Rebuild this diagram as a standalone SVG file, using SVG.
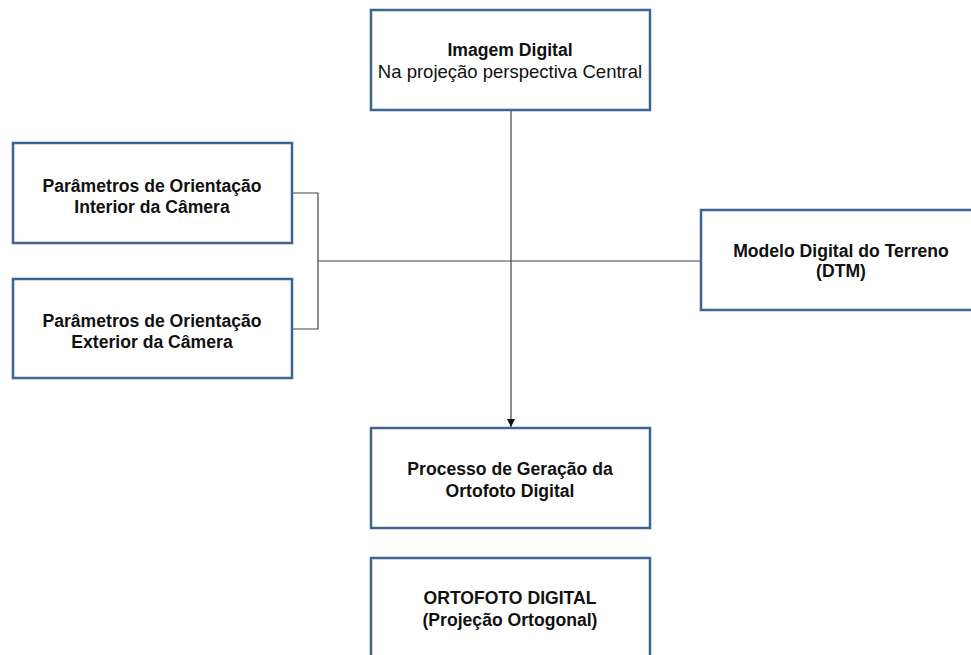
<svg xmlns="http://www.w3.org/2000/svg" width="971" height="655" viewBox="0 0 971 655">
<defs>
<style>
.box{fill:#fff;stroke:#3C6494;stroke-width:2.5}
.t{font-family:"Liberation Sans",Arial,Helvetica,sans-serif;font-size:18.5px;fill:#111;text-anchor:middle}
.b{font-weight:bold;font-size:17.6px}
.c{stroke:#444;stroke-width:1.2;fill:none}
</style>
<marker id="arr" viewBox="0 0 10 10" refX="10" refY="5" markerWidth="8" markerHeight="8" markerUnits="userSpaceOnUse" orient="auto"><path d="M0,0 L10,5 L0,10 Z" fill="#111"/></marker>
</defs>
<rect width="971" height="655" fill="#fff"/>
<g id="connectors">
<path class="c" d="M292,193 H318 V329 H292"/>
<path class="c" d="M318,261 H701"/>
<path class="c" d="M511,110 V427" marker-end="url(#arr)"/>
</g>
<g id="imagem"><rect class="box" x="371" y="10" width="279" height="100"/>
<text class="t b" x="510" y="56">Imagem Digital</text><text class="t" x="510" y="78">Na projeção perspectiva Central</text></g>
<g id="interior"><rect class="box" x="13" y="143" width="279" height="100"/>
<text class="t b" x="152" y="192">Parâmetros de Orientação</text><text class="t b" x="152" y="213">Interior da Câmera</text></g>
<g id="exterior"><rect class="box" x="13" y="279" width="279" height="99"/>
<text class="t b" x="152" y="327">Parâmetros de Orientação</text><text class="t b" x="152" y="348">Exterior da Câmera</text></g>
<g id="dtm"><rect class="box" x="701" y="210" width="280" height="100"/>
<text class="t b" x="841" y="257">Modelo Digital do Terreno</text><text class="t b" x="841" y="277">(DTM)</text></g>
<g id="processo"><rect class="box" x="371" y="428" width="279" height="100"/>
<text class="t b" x="510" y="475">Processo de Geração da</text><text class="t b" x="510" y="497">Ortofoto Digital</text></g>
<g id="ortofoto"><rect class="box" x="371" y="558" width="279" height="110"/>
<text class="t b" x="510" y="604">ORTOFOTO DIGITAL</text><text class="t b" x="510" y="626">(Projeção Ortogonal)</text></g>
</svg>
